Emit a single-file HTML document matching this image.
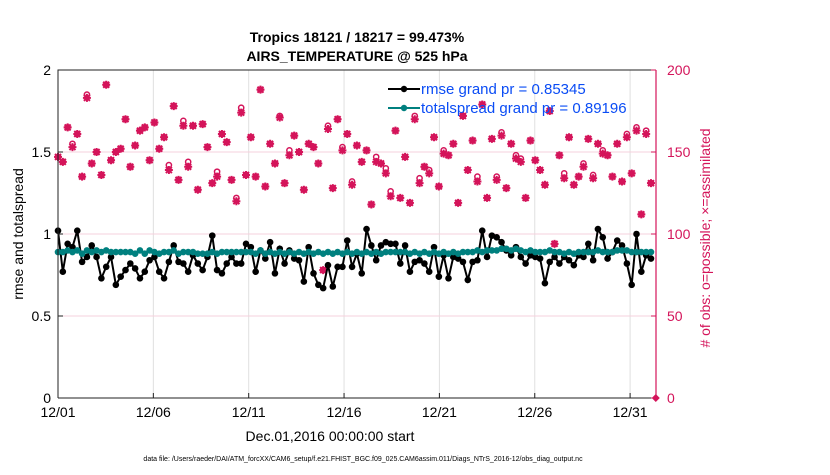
<!DOCTYPE html>
<html><head><meta charset="utf-8"><style>
body{margin:0;background:#fff;}
svg text{font-family:"Liberation Sans",Arial,sans-serif;}
</style></head><body>
<svg id="chart" width="830" height="470" xmlns="http://www.w3.org/2000/svg">
<rect width="830" height="470" fill="#fff"/>
<text x="357" y="42" text-anchor="middle" font-size="14" font-weight="bold">Tropics 18121 / 18217 = 99.473%</text>
<text x="357" y="61" text-anchor="middle" font-size="14" font-weight="bold">AIRS_TEMPERATURE @ 525 hPa</text>
<g id="grid"></g>
<g id="marks"></g>
<g id="axes"></g>
<text transform="translate(23,234) rotate(-90)" text-anchor="middle" font-size="14">rmse and totalspread</text>
<text transform="translate(710,238) rotate(-90)" text-anchor="middle" font-size="14" fill="#d4145a"># of obs: o=possible; ×=assimilated</text>
<text x="330" y="441" text-anchor="middle" font-size="14">Dec.01,2016 00:00:00 start</text>
<text x="363" y="461" text-anchor="middle" font-size="7">data file: /Users/raeder/DAI/ATM_forcXX/CAM6_setup/f.e21.FHIST_BGC.f09_025.CAM6assim.011/Diags_NTrS_2016-12/obs_diag_output.nc</text>
<g id="legend"></g>
</svg>
<script>
const xTickLabels=["12/01","12/06","12/11","12/16","12/21","12/26","12/31"];
const xTickDays=[0,5,10,15,20,25,30];
const yLeftTicks=[0,0.5,1,1.5,2];
const yLeftLabels=["0","0.5","1","1.5","2"];
const yRightTicks=[0,50,100,150,200];
const rmse=[1.02,0.77,0.94,0.92,1.02,0.83,0.86,0.93,0.86,0.73,0.80,0.86,0.69,0.74,0.78,0.82,0.79,0.73,0.77,0.84,0.86,0.77,0.73,0.83,0.93,0.83,0.82,0.77,0.87,0.82,0.78,0.86,0.99,0.78,0.76,0.82,0.86,0.82,0.82,0.94,0.92,0.77,0.90,0.85,0.95,0.76,0.91,0.82,0.90,0.85,0.84,0.71,0.92,0.76,0.69,0.67,0.81,0.68,0.80,0.80,0.96,0.80,0.88,
0.76,1.03,0.93,0.84,0.93,0.95,0.94,0.94,0.82,0.93,0.77,0.83,0.84,0.82,0.77,0.92,0.74,0.87,0.73,0.86,0.85,0.83,0.72,0.83,0.84,1.02,0.86,0.99,0.98,0.95,0.90,0.87,0.92,0.86,0.82,0.87,0.86,0.85,0.70,0.83,0.86,0.82,0.86,0.84,0.81,0.87,0.86,0.94,0.84,1.03,0.98,0.85,0.89,0.96,0.93,0.82,0.69,1.00,0.77,0.87,0.85];
const spread=[0.89,0.89,0.90,0.89,0.90,0.88,0.90,0.89,0.90,0.89,0.90,0.89,0.89,0.89,0.89,0.89,0.88,0.90,0.88,0.90,0.89,0.88,0.89,0.89,0.90,0.88,0.89,0.89,0.89,0.88,0.88,0.88,0.89,0.88,0.89,0.89,0.89,0.89,0.89,0.89,0.89,0.88,0.90,0.88,0.89,0.88,0.89,0.88,0.89,0.88,0.89,0.88,0.89,0.88,0.89,0.88,0.89,0.88,0.89,0.88,0.89,0.88,0.89,
0.88,0.89,0.88,0.89,0.88,0.89,0.89,0.89,0.89,0.89,0.88,0.89,0.88,0.89,0.88,0.89,0.88,0.89,0.88,0.89,0.88,0.89,0.89,0.89,0.90,0.89,0.90,0.90,0.90,0.91,0.91,0.90,0.91,0.90,0.89,0.90,0.89,0.89,0.89,0.90,0.89,0.89,0.88,0.89,0.88,0.89,0.89,0.89,0.89,0.90,0.89,0.89,0.89,0.90,0.90,0.90,0.89,0.89,0.89,0.89,0.89];
const nAssim=[147,144,165,153,161,135,183,143,150,136,191,145,150,152,170,141,154,163,165,145,168,152,159,139,178,133,166,141,166,127,167,153,131,135,161,156,133,120,174,136,159,135,188,129,155,143,171,131,148,160,150,127,155,153,143,78,164,128,170,151,161,130,154,
144,151,118,144,143,137,123,163,122,147,119,170,131,141,137,159,129,149,148,155,119,172,139,157,132,179,122,158,133,160,128,155,146,144,122,157,145,139,130,175,94,148,134,159,130,135,141,158,134,155,149,148,135,155,132,159,137,163,112,161,131,0];
const nPoss=[147,144,165,155,161,135,185,143,150,136,191,145,150,152,170,141,154,163,165,145,168,152,159,142,178,133,169,144,166,127,167,153,131,138,161,156,133,122,177,136,159,135,188,129,155,143,172,131,151,160,150,127,155,153,143,78,166,128,170,153,161,132,154,
144,151,118,147,143,140,126,163,122,147,119,172,134,141,139,159,129,151,148,155,119,172,139,157,135,179,122,158,135,162,128,155,148,146,122,157,145,139,130,175,94,148,137,159,130,135,143,158,136,155,151,148,135,155,132,161,137,165,112,163,131,0];

const NS="http://www.w3.org/2000/svg";
const X0=58,X1=656,Y0=398,Y1=70,PXDAY=19.07;
const xs=d=>X0+d*PXDAY;
const yL=v=>Y0-(v/2)*(Y0-Y1);
const yR=v=>Y0-(v/200)*(Y0-Y1);
const dayOf=i=>i*0.2528;
function mk(tag,attrs,parent){const e=document.createElementNS(NS,tag);for(const k in attrs)e.setAttribute(k,attrs[k]);parent.appendChild(e);return e;}
const grid=document.getElementById('grid'),marks=document.getElementById('marks'),axes=document.getElementById('axes'),legend=document.getElementById('legend');
xTickDays.forEach(d=>{const l=mk('line',{x1:xs(d),x2:xs(d),y1:Y1,y2:Y0,stroke:'#e0e0e0','stroke-width':1},grid);

});
yLeftTicks.slice(1,4).forEach(v=>{const l=mk('line',{x1:X0,x2:X1,y1:yL(v),y2:yL(v),stroke:'#f6d0dc','stroke-width':1},grid);

});
const MAG='#d4145a';
nAssim.forEach((v,i)=>{const x=xs(dayOf(i)),y=yR(v);
const g=mk('g',{stroke:MAG,'stroke-width':2,fill:'none'},marks);


if(v===0){mk('path',{d:`M${x} ${y-4}L${x+4} ${y}L${x} ${y+4}L${x-4} ${y}Z`,fill:MAG,stroke:'none'},g);return;}
mk('path',{d:`M${x-4} ${y}H${x+4}M${x} ${y-4}V${y+4}M${x-3} ${y-3}L${x+3} ${y+3}M${x-3} ${y+3}L${x+3} ${y-3}`},g);
mk('path',{d:`M${x} ${y-3.5}L${x+3.5} ${y}L${x} ${y+3.5}L${x-3.5} ${y}Z`,fill:MAG,stroke:'none'},g);});
nPoss.forEach((v,i)=>{if(v===0)return;const c=mk('circle',{cx:xs(dayOf(i)),cy:yR(v),r:2.6,fill:'none',stroke:MAG,'stroke-width':1.5},marks);

});
function series(vals,color,name){
const p=mk('polyline',{points:vals.map((v,i)=>xs(dayOf(i))+','+yL(v)).join(' '),fill:'none',stroke:color,'stroke-width':2},marks);


vals.forEach((v,i)=>{const c=mk('circle',{cx:xs(dayOf(i)),cy:yL(v),r:3.3,fill:color},marks);

});}
series(rmse,'#000','rmse');
series(spread,'#00807f','totalspread');
let a=mk('path',{d:`M${X0} ${Y0}V${Y1}H${X1}M${X0} ${Y0}H${X1}`,stroke:'#222','stroke-width':1,fill:'none'},axes);


a=mk('line',{x1:X1,x2:X1,y1:Y1,y2:Y0,stroke:MAG,'stroke-width':1.2},axes);


xTickDays.forEach((d,i)=>{mk('line',{x1:xs(d),x2:xs(d),y1:Y0,y2:Y0-5,stroke:'#222'},axes);
const t=mk('text',{x:xs(d),y:417,'text-anchor':'middle','font-size':14},axes);t.textContent=xTickLabels[i];

});
yLeftTicks.forEach((v,i)=>{mk('line',{x1:X0,x2:X0+5,y1:yL(v),y2:yL(v),stroke:'#222'},axes);
const t=mk('text',{x:51,y:yL(v)+5,'text-anchor':'end','font-size':14},axes);t.textContent=yLeftLabels[i];

});
yRightTicks.forEach(v=>{mk('line',{x1:X1,x2:X1-5,y1:yR(v),y2:yR(v),stroke:MAG},axes);
const t=mk('text',{x:667,y:yR(v)+5,'font-size':14,fill:MAG},axes);t.textContent=String(v);

});
[['#000','rmse grand pr = 0.85345',89,'legend-entry-rmse'],['#00807f','totalspread grand pr = 0.89196',108,'legend-entry-totalspread']].forEach(e=>{
const g=mk('g',{},legend);


mk('line',{x1:388,x2:420,y1:e[2],y2:e[2],stroke:e[0],'stroke-width':2},g);
mk('circle',{cx:404,cy:e[2],r:3.2,fill:e[0]},g);
const t=mk('text',{x:421,y:e[2]+5,'font-size':15,fill:'#0a4cf5'},g);t.textContent=e[1];});
</script>
</body></html>
